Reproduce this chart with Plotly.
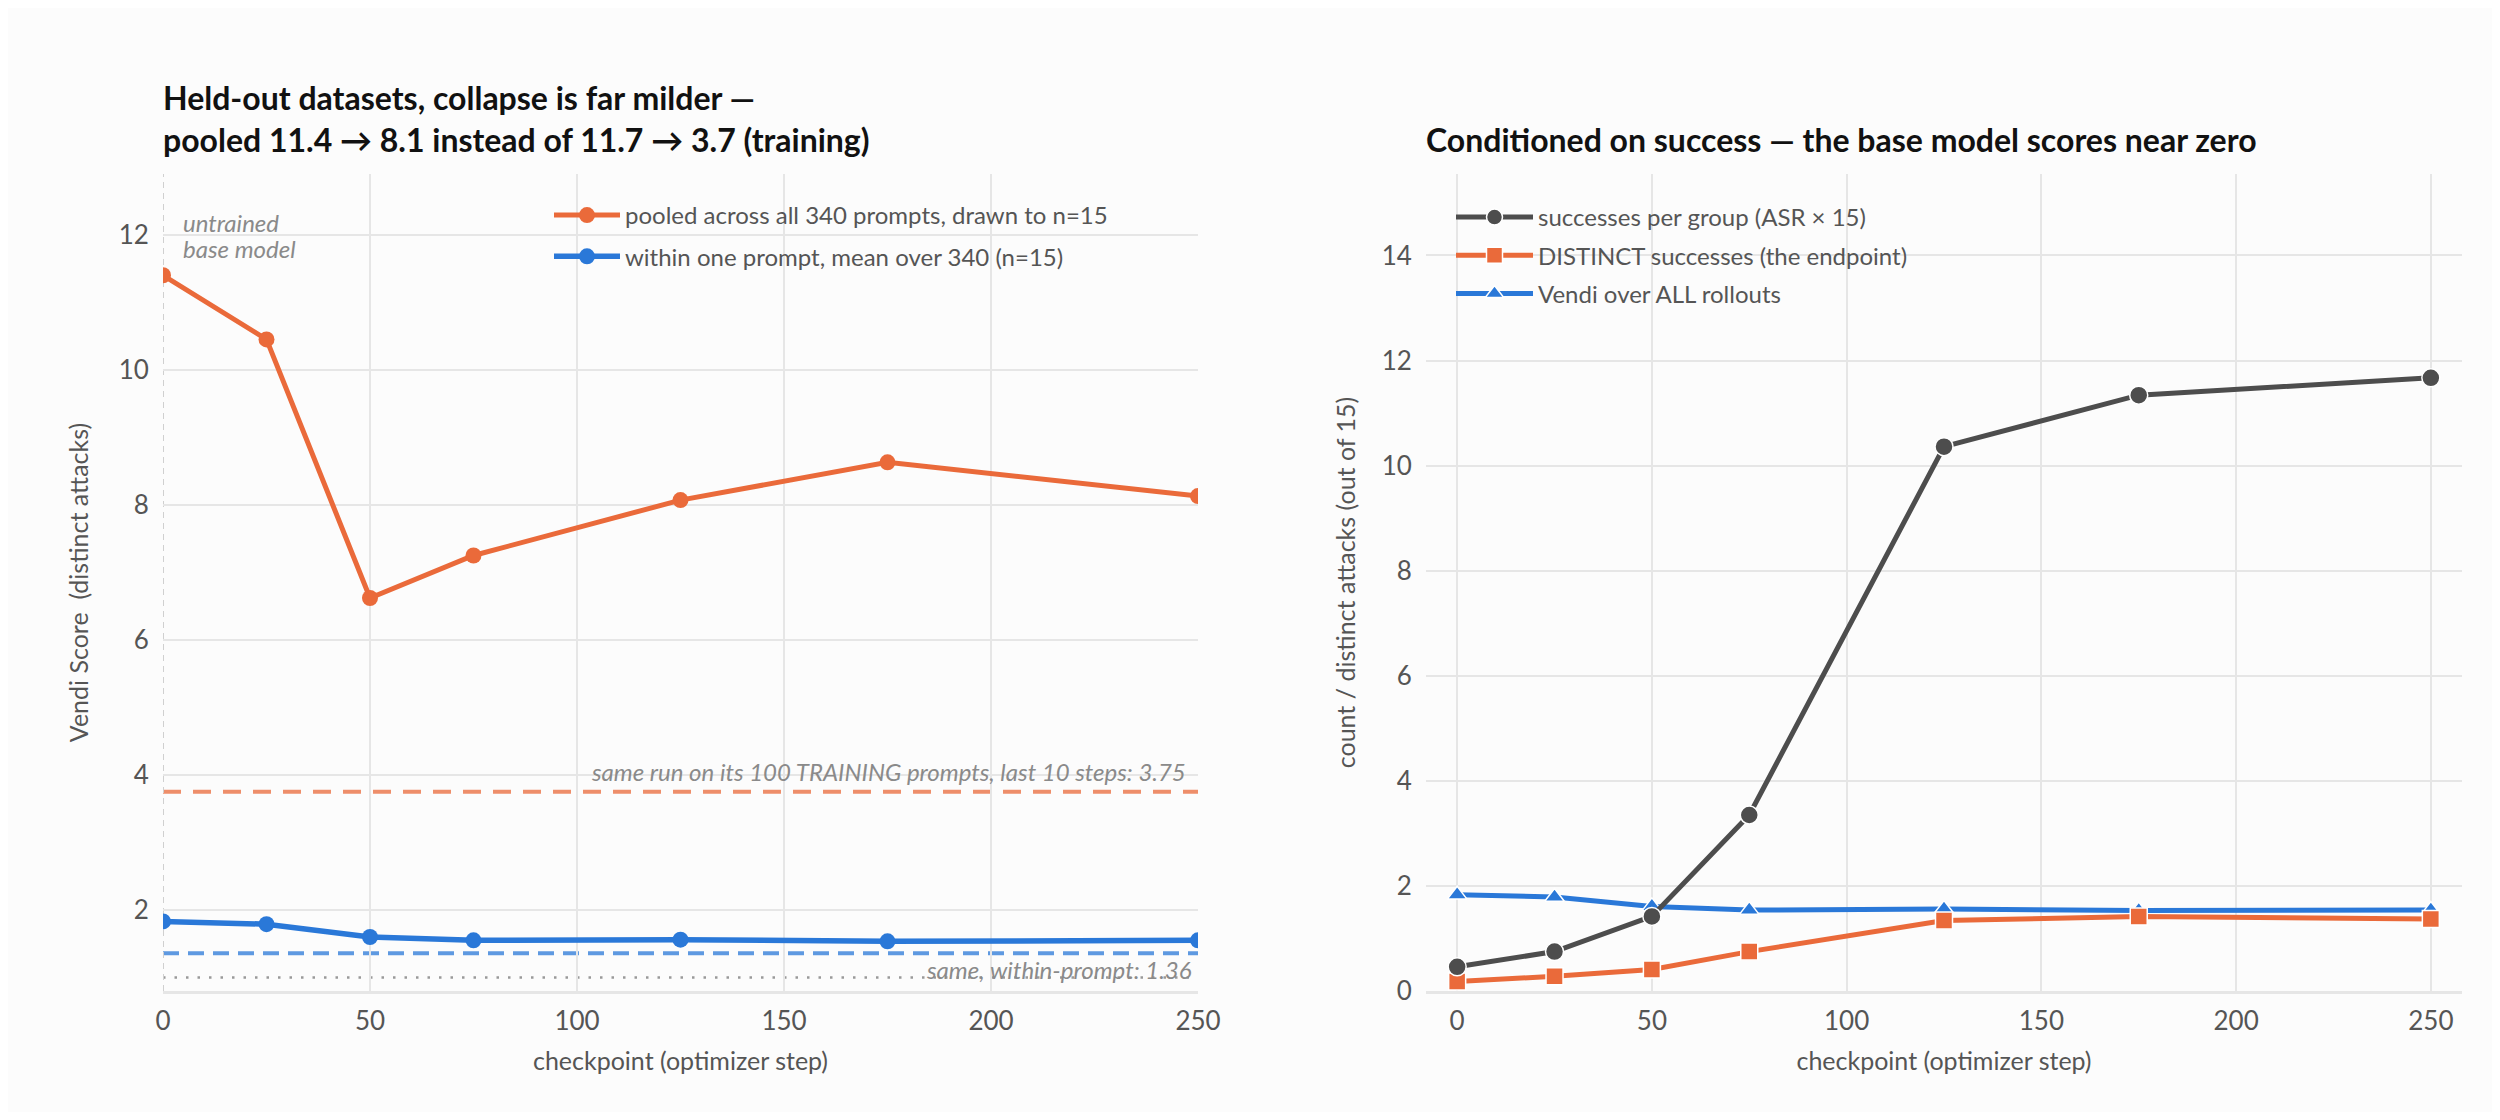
import plotly.graph_objects as go

# ---------------- data ----------------
steps = [0, 25, 50, 75, 125, 175, 250]

pooled = [11.40, 10.45, 6.62, 7.25, 8.07, 8.63, 8.13]
within = [1.83, 1.79, 1.60, 1.55, 1.56, 1.535, 1.55]
train_pooled_ref = 3.75
train_within_ref = 1.36
vendi_floor = 1.0

successes = [0.46, 0.75, 1.42, 3.35, 10.36, 11.34, 11.67]
distinct = [0.18, 0.28, 0.41, 0.75, 1.34, 1.42, 1.37]
vendi_all = [1.83, 1.79, 1.61, 1.54, 1.56, 1.53, 1.54]

left_title = "Held-out datasets, collapse is far milder —<br>pooled 11.4 → 8.1 instead of 11.7 → 3.7 (training)"
right_title = "Conditioned on success — the base model scores near zero"

# ---------------- style ----------------
ORANGE = "#EA6A3A"
BLUE = "#2A78D8"
GRAY = "#4D4D4D"
BG = "#FCFCFC"
GRID = "#E6E6E6"
FONT = "Lato"

OFF = 8  # page body margin
W, H = 2484, 1104
ML, MR, MT, MB = 155, 30, 166, 121
PW, PH = W - ML - MR, H - MT - MB
def px_x(p): return (p - OFF - ML) / PW
def px_y(p): return (H - MB - (p - OFF)) / PH

fig = go.Figure()

# left panel
fig.add_trace(go.Scatter(x=steps, y=pooled, mode="lines+markers",
                         name="pooled across all 340 prompts, drawn to n=15",
                         line=dict(color=ORANGE, width=5), marker=dict(size=16, color=ORANGE),
                         xaxis="x", yaxis="y", legend="legend", legendgroup="a"))
fig.add_trace(go.Scatter(x=steps, y=within, mode="lines+markers",
                         name="within one prompt, mean over 340 (n=15)",
                         line=dict(color=BLUE, width=5.5), marker=dict(size=16, color=BLUE),
                         xaxis="x", yaxis="y", legend="legend", legendgroup="b"))

# right panel (draw order: blue, orange, gray; legend order via legendrank)
fig.add_trace(go.Scatter(x=steps, y=vendi_all, mode="lines+markers",
                         name="Vendi over ALL rollouts",
                         line=dict(color=BLUE, width=5),
                         marker=dict(size=17, color=BLUE, symbol="triangle-up",
                                     line=dict(color="white", width=1.5)),
                         xaxis="x2", yaxis="y2", legend="legend2", legendgroup="c", legendrank=3))
fig.add_trace(go.Scatter(x=steps, y=distinct, mode="lines+markers",
                         name="DISTINCT successes (the endpoint)",
                         line=dict(color=ORANGE, width=5),
                         marker=dict(size=17, color=ORANGE, symbol="square",
                                     line=dict(color="white", width=1.5)),
                         xaxis="x2", yaxis="y2", legend="legend2", legendgroup="d", legendrank=2))
fig.add_trace(go.Scatter(x=steps, y=successes, mode="lines+markers",
                         name="successes per group (ASR × 15)",
                         line=dict(color=GRAY, width=5),
                         marker=dict(size=18, color=GRAY, line=dict(color="white", width=1.5)),
                         xaxis="x2", yaxis="y2", legend="legend2", legendgroup="e", legendrank=1))

# reference lines on left panel
fig.add_shape(type="line", xref="x domain", yref="y", x0=0, x1=1,
              y0=train_pooled_ref, y1=train_pooled_ref,
              line=dict(color=ORANGE, width=4, dash="18px,12px"), opacity=0.75, layer="below")
fig.add_shape(type="line", xref="x domain", yref="y", x0=0, x1=1,
              y0=train_within_ref, y1=train_within_ref,
              line=dict(color=BLUE, width=4, dash="16px,9px"), opacity=0.75, layer="below")
fig.add_shape(type="line", xref="x domain", yref="y", x0=0, x1=1,
              y0=vendi_floor, y1=vendi_floor,
              line=dict(color="#999999", width=2.5, dash="2.5px,9px"), layer="below")
fig.add_shape(type="line", xref="x", yref="y domain", x0=steps[0], x1=steps[0],
              y0=0, y1=1, line=dict(color="#D0D0D0", width=2, dash="6px,5px"), layer="below")

ann_font = dict(family=FONT, size=24, color="#8A8A8A", style="italic")
fig.add_annotation(x=steps[0], y=px_y(223), xref="x", yref="paper", xanchor="left", yanchor="middle",
                   xshift=18, text="untrained", showarrow=False, font=ann_font, align="left")
fig.add_annotation(x=steps[0], y=px_y(248), xref="x", yref="paper", xanchor="left", yanchor="middle",
                   xshift=18, text="base model", showarrow=False, font=ann_font, align="left")
fig.add_annotation(x=1, y=train_pooled_ref, xref="x domain", yref="y", xanchor="right",
                   yanchor="bottom", xshift=-10, yshift=4,
                   text=f"same run on its 100 TRAINING prompts, last 10 steps: {train_pooled_ref:.2f}",
                   showarrow=False, font=ann_font)
fig.add_annotation(x=1, y=train_within_ref, xref="x domain", yref="y", xanchor="right",
                   yanchor="top", xshift=-4, yshift=0,
                   text=f"same, within-prompt: {train_within_ref:.2f}",
                   showarrow=False, font=ann_font)

# titles
title_font = dict(family=FONT, size=32, color="#111111", weight="bold")
fig.add_annotation(x=px_x(163), y=px_y(161), xref="paper", yref="paper", xanchor="left",
                   yanchor="bottom", text=f"<b>{left_title}</b>", showarrow=False,
                   font=title_font, align="left", xshift=-2)
fig.add_annotation(x=px_x(1426), y=px_y(161), xref="paper", yref="paper", xanchor="left",
                   yanchor="bottom", text=f"<b>{right_title}</b>", showarrow=False,
                   font=title_font, align="left", xshift=-2)

axis_common = dict(showgrid=True, gridcolor=GRID, gridwidth=2, zeroline=False,
                   automargin=False,
                   tickfont=dict(family=FONT, size=26, color="#555555"),
                   ticks="outside", tickcolor="rgba(0,0,0,0)")
title_font_ax = dict(family=FONT, size=25, color="#555555")

fig.update_layout(
    width=W, height=H,
    paper_bgcolor=BG, plot_bgcolor=BG,
    margin=dict(l=ML, r=MR, t=MT, b=MB),
    font=dict(family=FONT, color="#555555"),
    xaxis=dict(domain=[0, px_x(1198)], range=[0, 250], tickvals=[0, 50, 100, 150, 200, 250],
               title=dict(text="checkpoint (optimizer step)", font=title_font_ax, standoff=18),
               anchor="y", ticklen=5, showline=True, linecolor=GRID, linewidth=3, **axis_common),
    yaxis=dict(domain=[0, 1], range=[0.8, 12.9], tickvals=[2, 4, 6, 8, 10, 12],
               title=dict(text="Vendi Score\u00a0\u00a0(distinct attacks)", font=title_font_ax, standoff=22),
               anchor="x", ticklen=8, showline=False, **axis_common),
    xaxis2=dict(domain=[px_x(1426), 1], range=[-8, 258], tickvals=[0, 50, 100, 150, 200, 250],
                title=dict(text="checkpoint (optimizer step)", font=title_font_ax, standoff=18),
                anchor="y2", ticklen=5, showline=True, linecolor=GRID, linewidth=3, **axis_common),
    yaxis2=dict(domain=[0, 1], range=[0, 15.55], tickvals=[0, 2, 4, 6, 8, 10, 12, 14],
                title=dict(text="count / distinct attacks (out of 15)", font=title_font_ax, standoff=18),
                anchor="x2", ticklen=8, showline=False, **axis_common),
    legend=dict(x=px_x(549), y=px_y(193), xanchor="left", yanchor="top",
                bgcolor="rgba(0,0,0,0)", font=dict(family=FONT, size=24, color="#555555"),
                traceorder="grouped", tracegroupgap=7, itemwidth=66),
    legend2=dict(x=px_x(1451), y=px_y(195), xanchor="left", yanchor="top",
                 bgcolor="rgba(0,0,0,0)", font=dict(family=FONT, size=24, color="#555555"),
                 traceorder="grouped", tracegroupgap=4, itemwidth=77),
    showlegend=True,
)

fig.write_html("out.html")
